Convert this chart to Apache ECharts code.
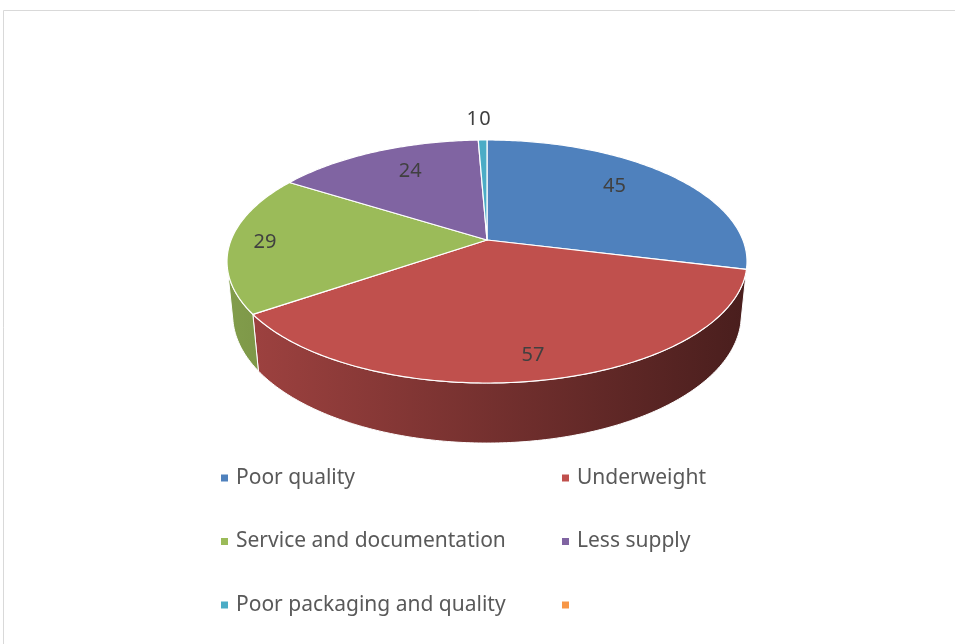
<!DOCTYPE html>
<html>
<head>
<meta charset="utf-8">
<script src="https://cdn.jsdelivr.net/npm/echarts@6/dist/echarts.min.js"></script>
<style>
html, body { margin: 0; padding: 0; background: #fff; }
#chart { width: 955px; height: 644px; }
</style>
</head>
<body>
<div id="chart"></div>
<script>
// Complaint categories and counts
const categories = ['Poor quality', 'Underweight', 'Service and documentation', 'Less supply', 'Poor packaging and quality', ' '];
const values = [45, 57, 29, 24, 1, 0];
const colors = ['#4F81BD', '#C0504D', '#9BBB59', '#8064A2', '#4BACC6', '#F79646'];

// Perspective camera for the tilted 3D pie
const CX = 487, CY = 240;          // screen position of the pie centre
const F = 1284;                     // focal length
const R = 0.1993;                   // pie radius (camera distance = 1)
const H = 0.0472;                   // pie thickness
const SIN_A = 0.46, COS_A = Math.sqrt(1 - SIN_A * SIN_A);

function project(phiDeg, rho, h) {
  const p = phiDeg * Math.PI / 180;
  const u = Math.sin(p) * rho;
  const v = -Math.cos(p) * rho;
  const xc = R * u;
  const yc = h * COS_A - R * v * SIN_A;
  const zc = 1 - h * SIN_A - R * v * COS_A;
  return [CX + F * xc / zc, CY - F * yc / zc];
}

// angular range of the outer wall that faces the camera
const FRONT_A = Math.acos(-R / COS_A) * 180 / Math.PI;
const FRONT_B = 360 - FRONT_A;

const total = values.reduce((a, b) => a + b, 0);
const cumulative = [];
values.reduce((acc, v, i) => { cumulative[i] = acc; return acc + v; }, 0);

// label placement along each slice's mid-angle
const labelRho = [0.68, 0.85, 0.865, 0.66, 1.25, 1.25];
const labelDx = [0, 0, 0, 0, -9.5, -2];
const labelDy = [-8, 0, 0, -8, 0, 0];

function shade(hex, k) {
  const n = parseInt(hex.slice(1), 16);
  const r = Math.round(((n >> 16) & 255) * k);
  const g = Math.round(((n >> 8) & 255) * k);
  const b = Math.round((n & 255) * k);
  return 'rgb(' + r + ',' + g + ',' + b + ')';
}

function arc(a0, a1, h) {
  const pts = [];
  const steps = Math.max(2, Math.ceil((a1 - a0) / 0.75));
  for (let s = 0; s <= steps; s++) {
    pts.push(project(a0 + (a1 - a0) * s / steps, 1, h));
  }
  return pts;
}

function renderSlice(params, api) {
  const i = params.dataIndex;
  const v = api.value(0);
  const start = api.value(1);
  const a0 = start / total * 360;
  const a1 = (start + v) / total * 360;
  const children = [];

  if (v > 0) {
    // visible outer wall
    const w0 = Math.max(a0, FRONT_A), w1 = Math.min(a1, FRONT_B);
    if (w1 > w0) {
      const topArc = arc(w0, w1, 0);
      const botArc = arc(w0, w1, -H).reverse();
      children.push({
        type: 'polygon',
        z2: 1,
        shape: { points: topArc.concat(botArc) },
        style: {
          fill: new echarts.graphic.LinearGradient(227, 0, 747, 0, [
            { offset: 0, color: shade(colors[i], 0.84) },
            { offset: 1, color: shade(colors[i], 0.38) }
          ], true),
          stroke: '#ffffff',
          lineWidth: 1
        }
      });
    }
    // top face
    const top = [project(0, 0, 0)].concat(arc(a0, a1, 0));
    children.push({
      type: 'polygon',
      z2: 5,
      shape: { points: top },
      style: { fill: colors[i], stroke: '#ffffff', lineWidth: 1.2, lineJoin: 'round' }
    });
  }

  // value label
  const mid = (a0 + a1) / 2;
  const lp = project(mid, labelRho[i], 0);
  children.push({
    type: 'text',
    z2: 10,
    style: {
      x: lp[0] + labelDx[i],
      y: lp[1] + labelDy[i],
      text: String(v),
      fill: '#404040',
      fontSize: 20,
      fontFamily: 'Noto Sans',
      align: 'center',
      verticalAlign: 'middle'
    }
  });

  return { type: 'group', children: children };
}

const legendCommon = {
  orient: 'vertical',
  top: 461,
  itemWidth: 13,
  itemHeight: 7,
  itemGap: 39.5,
  icon: 'path://M0,0L10,0L10,10L0,10Z',
  selectedMode: false,
  textStyle: { color: '#595959', fontSize: 21, fontFamily: 'Noto Sans', lineHeight: 24 }
};

const chart = echarts.init(document.getElementById('chart'), null, { renderer: 'canvas' });
chart.setOption({
  animation: false,
  backgroundColor: '#ffffff',
  graphic: [{
    type: 'rect',
    silent: true,
    shape: { x: 3.5, y: 10.5, width: 1000, height: 700 },
    style: { fill: 'none', stroke: '#d9d9d9', lineWidth: 1 }
  }],
  legend: [
    Object.assign({}, legendCommon, { left: 216, data: [categories[0], categories[2], categories[4]] }),
    Object.assign({}, legendCommon, { left: 557, data: [categories[1], categories[3], categories[5]] })
  ],
  series: [
    {
      type: 'custom',
      coordinateSystem: 'none',
      silent: true,
      renderItem: renderSlice,
      data: values.map((v, i) => [v, cumulative[i]])
    },
    {
      // carries the category names and colours for the legend
      type: 'pie',
      silent: true,
      radius: 0,
      center: [-500, -500],
      label: { show: false },
      labelLine: { show: false },
      data: categories.map((c, i) => ({ name: c, value: values[i], itemStyle: { color: colors[i] } }))
    }
  ]
});
</script>
</body>
</html>
